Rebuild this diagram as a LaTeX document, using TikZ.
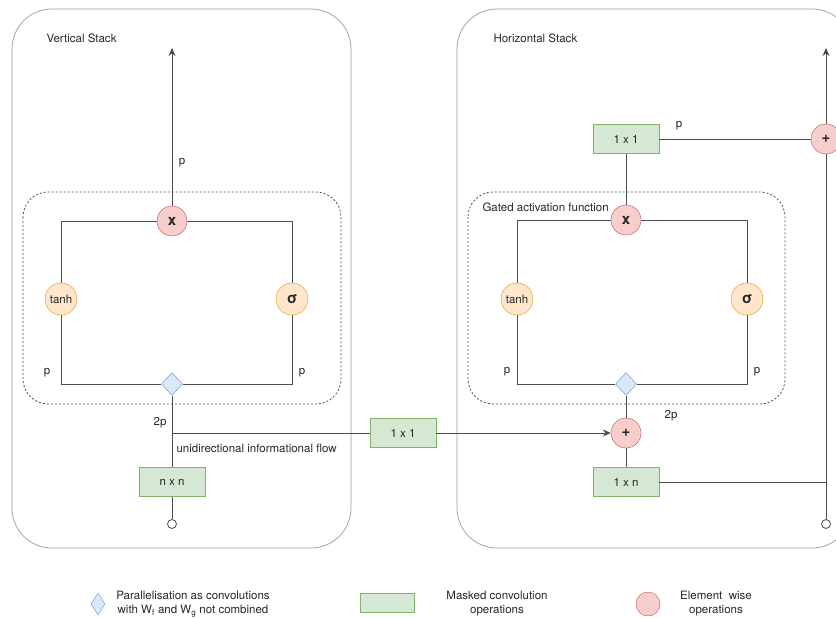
\documentclass[tikz,border=0pt]{standalone}
\usepackage{fontspec}
\setmainfont{TeX Gyre Heros}
\usetikzlibrary{shapes.geometric,arrows.meta}
\definecolor{convfill}{HTML}{D5E8D4}
\definecolor{convline}{HTML}{82B366}
\definecolor{opfill}{HTML}{F8CECC}
\definecolor{opline}{HTML}{B85450}
\definecolor{actfill}{HTML}{FFE6CC}
\definecolor{actline}{HTML}{D79B00}
\definecolor{splitfill}{HTML}{DAE8FC}
\definecolor{splitline}{HTML}{6C8EBF}
\definecolor{wirecol}{HTML}{4D4D4D}
\definecolor{framecol}{HTML}{9A9A9A}
\definecolor{textcol}{HTML}{262626}
\tikzset{
  every node/.style={font=\fontsize{11.5}{13}\selectfont, text=textcol},
  conv/.style={rectangle, draw=convline, fill=convfill, minimum width=66, minimum height=29},
  mult/.style={circle, draw=opline, fill=opfill, minimum size=30, inner sep=0, font=\fontsize{15}{16}\selectfont\bfseries},
  act/.style={circle, draw=actline, fill=actfill, minimum size=32, inner sep=0},
  split/.style={diamond, draw=splitline, fill=splitfill, minimum width=21, minimum height=23, inner sep=0},
  port/.style={circle, draw=wirecol, fill=white, minimum size=9, inner sep=0, line width=0.8pt},
  wire/.style={draw=wirecol, line width=0.9pt},
  tip/.style={-{Stealth[length=8pt,width=7pt]}},
  stackbox/.style={draw=framecol, line width=0.7pt, rounded corners=40},
  gatebox/.style={draw=wirecol, line width=0.8pt, dash pattern=on 2pt off 2pt, rounded corners=25},
  legend/.style={align=center, font=\fontsize{11.5}{14}\selectfont}
}
\begin{document}
\begin{tikzpicture}[x=1pt,y=-1pt]
    \useasboundingbox (0,0) rectangle (836,618);
    \begin{scope}
      \clip (0,0) rectangle (836,618);
      \draw[stackbox] (12,9) rectangle (351,548);
      \draw[stackbox] (457,9) rectangle (852,548);
    \end{scope}
    \draw[gatebox] (23,192) rectangle (341,404);
    \draw[gatebox] (468,192) rectangle (785,404);
    \node[anchor=west] at (43,38) {Vertical Stack};
    \node[anchor=west] at (490,38) {Horizontal Stack};
    \node[anchor=west] at (479,207) {Gated activation function};

    \node[mult] (mulV) at (172,221) {x};
    \node[act] (tanhV) at (61,299) {tanh};
    \node[act] (sigV) at (292,299) {\fontsize{15}{16}\selectfont\bfseries σ};
    \node[split] (splitV) at (172,384) {};
    \node[conv] (convV) at (172,482) {n x n};
    \node[port] (inV) at (172,524) {};
    \coordinate (outV) at (172,48);
    \coordinate (joinV) at (172,433);
    \node[conv] (convL) at (403,433) {1 x 1};

    \node[conv] (convH) at (626,139) {1 x 1};
    \node[mult] (plusOut) at (826,139) {+};
    \node[mult] (mulH) at (626,220) {x};
    \node[act] (tanhH) at (517,299) {tanh};
    \node[act] (sigH) at (747,299) {\fontsize{15}{16}\selectfont\bfseries σ};
    \node[split] (splitH) at (626,384) {};
    \node[mult] (plusH) at (626,433) {+};
    \node[conv] (convN) at (626,482) {1 x n};
    \node[port] (inH) at (826,524) {};
    \coordinate (outH) at (826,48);

    \draw[wire,tip] (mulV) -- (outV);
    \draw[wire] (mulV) -| (tanhV);
    \draw[wire] (mulV) -| (sigV);
    \draw[wire] (tanhV) |- (splitV);
    \draw[wire] (sigV) |- (splitV);
    \draw[wire] (splitV) -- (convV);
    \draw[wire] (convV) -- (inV);
    \draw[wire] (joinV) -- (convL);
    \draw[wire,tip] (convL) -- (plusH);

    \draw[wire,tip] (plusOut) -- (outH);
    \draw[wire] (convH) -- (plusOut);
    \draw[wire] (convH) -- (mulH);
    \draw[wire] (mulH) -| (tanhH);
    \draw[wire] (mulH) -| (sigH);
    \draw[wire] (tanhH) |- (splitH);
    \draw[wire] (sigH) |- (splitH);
    \draw[wire] (splitH) -- (plusH);
    \draw[wire] (plusH) -- (convN);
    \draw[wire] (inH) -- (plusOut);
    \draw[wire] (convN) -- (convN -| inH);

    \node at (182,163) {p};
    \node at (47,373) {p};
    \node at (302,373) {p};
    \node at (160,423) {2p};
    \node[anchor=west] at (173,448) {unidirectional informational flow};
    \node at (679,126) {p};
    \node at (507,372) {p};
    \node at (757,372) {p};
    \node at (671,416) {2p};

    \node[split, minimum width=14, minimum height=22] (keySplit) at (98,604) {};
    \node[legend] at (193,604) {Parallelisation as convolutions\\with W\textsubscript{f} and W\textsubscript{g} not combined};
    \node[conv, minimum width=54, minimum height=19] (keyConv) at (387,603) {};
    \node[legend] at (497,604) {Masked convolution\\operations};
    \node[mult, minimum size=24] (keyOp) at (648,604) {};
    \node[legend] at (716,604) {Element\ \ wise\\operations};
\end{tikzpicture}
\end{document}
